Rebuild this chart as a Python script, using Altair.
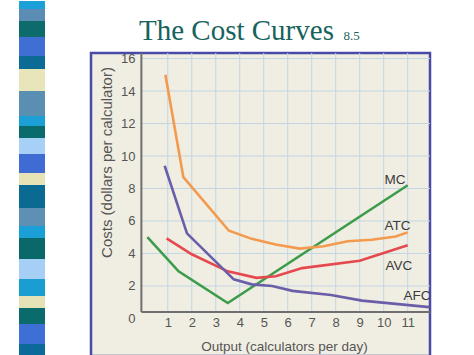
import altair as alt
import pandas as pd

# ---------------- data ----------------
mc_x = [0.15, 1.45, 3.5, 11.0]
mc_y = [5.0, 2.9, 0.95, 8.2]
atc_x = [0.9, 1.65, 3.55, 4.5, 5.5, 6.5, 7.5, 8.5, 9.5, 10.5, 11.0]
atc_y = [15.0, 8.7, 5.4, 4.9, 4.55, 4.3, 4.45, 4.75, 4.85, 5.05, 5.3]
avc_x = [0.95, 2.0, 3.5, 4.7, 5.5, 6.6, 9.0, 11.0]
avc_y = [4.93, 3.95, 2.9, 2.5, 2.6, 3.1, 3.55, 4.5]
afc_x = [0.87, 1.8, 3.75, 4.5, 5.35, 6.2, 7.8, 9.1, 11.9]
afc_y = [9.4, 5.24, 2.41, 2.1, 2.0, 1.7, 1.45, 1.1, 0.7]

curve_names = ["MC", "ATC", "AVC", "AFC"]
curve_colors = ["#3d9c4b", "#f39a4e", "#e5494e", "#6a5ea8"]

label_names = ["MC", "ATC", "AVC", "AFC"]
label_x = [10.47, 10.58, 10.63, 11.39]
label_y = [8.52, 5.69, 3.23, 1.38]

x_ticks = list(range(1, 12))
y_ticks = list(range(0, 17, 2))
grid_x = list(range(1, 12))
grid_y = list(range(2, 17, 2))

x_domain = [-2.2, 11.93]
y_domain = [-2.31, 16.34]
axis_x0 = -0.1
axis_y0 = 0.4

title_main = "The Cost Curves"
title_num = ["8.5"]
title_num_x = [8.66]
title_num_y = [17.14]

# decorative stripe (band edges along the page height, top to bottom)
stripe_edges = [0, 8, 20, 36, 55, 68, 90, 115, 125, 137, 153, 172, 184, 207,
                225, 237, 258, 278, 295, 307, 323, 343, 355]
stripe_colors = ["#1ba0d8", "#5b8db4", "#0e6b6c", "#3f6fd2", "#0c6b96", "#e9e5bb",
                 "#5b8fb2", "#1b9fd6", "#0b6a6b", "#a6d0f6", "#3f6bd5", "#e7e3b6",
                 "#0b6a92", "#5e90b3", "#1a9fd7", "#0b6868", "#a6cff5", "#1a9ed1",
                 "#e6e2b8", "#0b6a6b", "#3e6fd6", "#0b6a9a"]
stripe_view = [52, 355]  # part of the stripe that sits beside the chart panel

# ---------------- tables ----------------
rows = []
for name, xs_, ys_ in zip(curve_names, [mc_x, atc_x, avc_x, afc_x], [mc_y, atc_y, avc_y, afc_y]):
    for i, (a, b) in enumerate(zip(xs_, ys_)):
        rows.append({"x": a, "y": b, "curve": name, "ord": i})
lines_df = pd.DataFrame(rows)
labels_df = pd.DataFrame({"x": label_x, "y": label_y, "t": label_names})
gx_df = pd.DataFrame({"x": grid_x, "y": [axis_y0] * len(grid_x)})
gy_df = pd.DataFrame({"y": grid_y, "x": [axis_x0] * len(grid_y)})
one_df = pd.DataFrame({"x": [axis_x0], "y": [axis_y0]})
num_df = pd.DataFrame({"x": title_num_x, "y": title_num_y, "t": title_num})
stripe_df = pd.DataFrame({"y0": stripe_edges[:-1], "y1": stripe_edges[1:], "c": stripe_colors})

W, H = 339, 303
FONT = "Liberation Sans"

xs = alt.Scale(domain=x_domain, nice=False, zero=False)
ys = alt.Scale(domain=y_domain, nice=False, zero=False)

xa = alt.Axis(values=x_ticks, offset=-44, domain=False, ticks=False, grid=False,
              labelPadding=4, labelFont=FONT, labelFontSize=13, labelColor="#555555",
              labelOverlap=False, labelFlush=False,
              title="Output (calculators per day)", titleFont=FONT, titleFontSize=13.5,
              titleFontWeight="normal", titleColor="#555555", titleX=193, titleY=34,
              titleBaseline="middle")
ya = alt.Axis(values=y_ticks, offset=-50, domain=False, ticks=False, grid=False,
              labelPadding=6, labelFont=FONT, labelFontSize=13, labelColor="#555555",
              labelOverlap=False, labelFlush=False,
              title="Costs (dollars per calculator)", titleFont=FONT, titleFontSize=15,
              titleFontWeight="normal", titleColor="#555555", titleX=-35, titleY=109,
              titleBaseline="middle", titleAngle=270)

X = alt.X("x:Q", scale=xs, axis=xa)
Y = alt.Y("y:Q", scale=ys, axis=ya)

grid_color = "#c3d6e4"

vgrid = alt.Chart(gx_df).mark_rule(color=grid_color, strokeWidth=1).encode(
    x=X, y=Y, y2=alt.value(0),
)
hgrid = alt.Chart(gy_df).mark_rule(color=grid_color, strokeWidth=1).encode(
    x=X, y=Y, x2=alt.value(W),
)
xaxis_line = alt.Chart(one_df).mark_rule(color="#6e6e6e", strokeWidth=2).encode(
    x=X, y=Y, x2=alt.value(W),
)
yaxis_line = alt.Chart(one_df).mark_rule(color="#6e6e6e", strokeWidth=2).encode(
    x=X, y=Y, y2=alt.value(0),
)
lines = alt.Chart(lines_df).mark_line(strokeWidth=2.6).encode(
    x=X, y=Y,
    color=alt.Color("curve:N", scale=alt.Scale(domain=curve_names, range=curve_colors), legend=None),
    detail="curve:N",
    order="ord:Q",
)
labels = alt.Chart(labels_df).mark_text(font=FONT, fontSize=13.5, color="#3a3a3a", clip=True).encode(
    x=X, y=Y, text="t:N",
)
num = alt.Chart(num_df).mark_text(font="Liberation Serif", fontSize=13, color="#17635d",
                                   baseline="alphabetic").encode(
    x=X, y=Y, text="t:N",
)

main = alt.layer(vgrid, hgrid, xaxis_line, yaxis_line, lines, labels, num).properties(
    width=W, height=H,
    view=alt.ViewBackground(fill="#f0eee2", stroke="#4a4aa6", strokeWidth=2.5),
    title=alt.TitleParams(text=title_main, font="Liberation Serif", fontSize=29,
                          color="#17635d", fontWeight="normal", anchor="start", dx=48,
                          offset=-16, frame="group"),
)

stripe = alt.Chart(stripe_df).mark_rect().encode(
    y=alt.Y("y0:Q", scale=alt.Scale(domain=stripe_view, reverse=True, nice=False, zero=False), axis=None),
    y2="y1:Q",
    color=alt.Color("c:N", scale=None),
).properties(width=26, height=H, view=alt.ViewBackground(stroke="transparent"))

chart = alt.hconcat(stripe, main, spacing=43).properties(
    padding={"left": 18, "top": 0, "right": 0, "bottom": 0},
    background="white",
)

chart.save("out.html", embed_options={"renderer": "svg", "actions": False})
